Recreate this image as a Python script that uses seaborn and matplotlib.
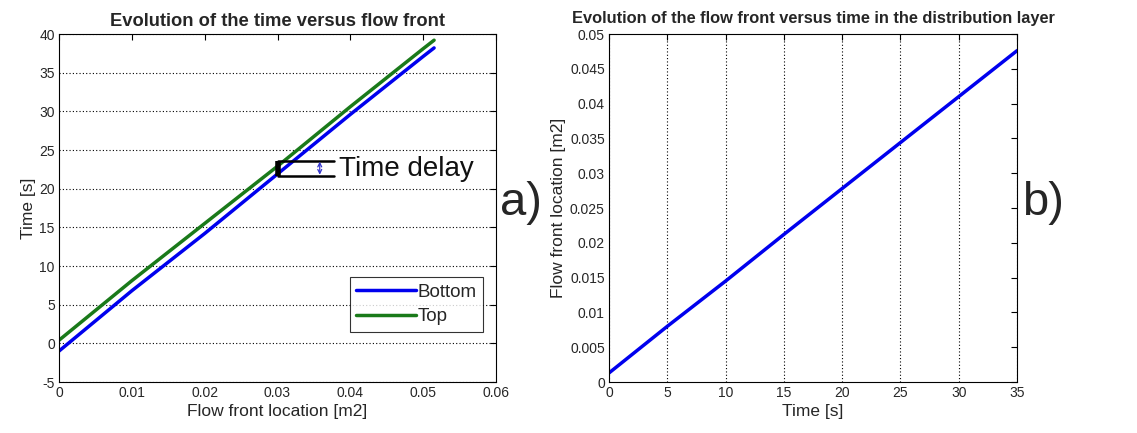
import numpy as np
import pandas as pd
import matplotlib
matplotlib.use("Agg")
import matplotlib.pyplot as plt
import seaborn as sns

# ---- data ----
front_a = [0.0, 0.01, 0.02, 0.03, 0.04, 0.05, 0.0515]
time_bottom = [-1.0, 6.8, 14.2, 21.9, 29.6, 37.1, 38.2]
time_top = [0.4, 8.1, 15.5, 22.9, 30.6, 38.1, 39.2]

time_b = [0, 5, 10, 15, 20, 25, 30, 35]
front_b = [0.0013, 0.0080, 0.0145, 0.0212, 0.0278, 0.0344, 0.0410, 0.0476]

xticks_a = [0, 0.01, 0.02, 0.03, 0.04, 0.05, 0.06]
yticks_a = [-5, 0, 5, 10, 15, 20, 25, 30, 35, 40]
xticks_b = [0, 5, 10, 15, 20, 25, 30, 35]
yticks_b = [0, 0.005, 0.01, 0.015, 0.02, 0.025, 0.03, 0.035, 0.04, 0.045, 0.05]

sns.set_theme(style="white")
plt.rcParams['font.family'] = ['Liberation Sans', 'DejaVu Sans']
plt.rcParams['axes.unicode_minus'] = False
plt.rcParams['xtick.direction'] = 'in'
plt.rcParams['ytick.direction'] = 'in'

fig = plt.figure(figsize=(11.37, 4.33), dpi=100)
W, H = 1137, 433
ax1 = fig.add_axes([59 / W, 1 - 382 / H, (496 - 59) / W, (382 - 34) / H])
ax2 = fig.add_axes([609 / W, 1 - 382 / H, (1017 - 609) / W, (382 - 34) / H])

df_a = pd.DataFrame({"front": front_a * 2,
                     "time": time_bottom + time_top,
                     "series": ["Bottom"] * len(front_a) + ["Top"] * len(front_a)})
sns.lineplot(data=df_a, x="front", y="time", hue="series",
             palette={"Bottom": "#0000ee", "Top": "#1a7a1a"},
             linewidth=2.5, ax=ax1, sort=False)

df_b = pd.DataFrame({"t": time_b, "f": front_b})
sns.lineplot(data=df_b, x="t", y="f", color="#0000ee", linewidth=2.5, ax=ax2)

for ax in (ax1, ax2):
    for s in ax.spines.values():
        s.set_color("black")
        s.set_linewidth(0.8)
    ax.tick_params(axis="both", which="both", direction="in", top=True, right=True,
                   length=4, width=0.8, color="black", labelsize=10, pad=3)

ax1.set_xlim(0, 0.06)
ax1.set_ylim(-5, 40)
ax1.set_xticks(xticks_a)
ax1.set_xticklabels(["0", "0.01", "0.02", "0.03", "0.04", "0.05", "0.06"])
ax1.set_yticks(yticks_a)
ax1.yaxis.grid(True, linestyle=(0, (1, 2)), color="black", linewidth=0.8)
ax1.xaxis.grid(False)
ax1.set_xlabel("Flow front location [m2]", fontsize=12.5, labelpad=3)
ax1.set_ylabel("Time [s]", fontsize=12.5, labelpad=2)
ax1.set_title("Evolution of the time versus flow front", fontsize=13.2, fontweight="bold", pad=6)
leg = ax1.legend(loc="lower right", bbox_to_anchor=(0.970, 0.144), fontsize=13.5,
                 frameon=True, fancybox=False, handlelength=3.2, handletextpad=0.05,
                 borderpad=0.35, labelspacing=0.4, borderaxespad=0)
leg.get_frame().set_edgecolor("black")
leg.get_frame().set_linewidth(0.8)
leg.set_title(None)

# Time delay annotation
ax1.plot([0.0300, 0.0300], [21.7, 23.6], color="black", linewidth=4, solid_capstyle="butt")
ax1.plot([0.0300, 0.0378], [23.6, 23.6], color="black", linewidth=1.8)
ax1.plot([0.0300, 0.0378], [21.7, 21.7], color="black", linewidth=1.8)
ax1.annotate("", xy=(0.0358, 23.5), xytext=(0.0358, 21.8),
             arrowprops=dict(arrowstyle="<->", color="#3333cc", lw=0.9,
                             mutation_scale=7, shrinkA=0, shrinkB=0))
ax1.text(0.0384, 22.6, "Time delay", fontsize=20, va="center", ha="left", color="#111111")

ax2.set_xlim(0, 35)
ax2.set_ylim(0, 0.05)
ax2.set_xticks(xticks_b)
ax2.set_yticks(yticks_b)
ax2.set_yticklabels(["0", "0.005", "0.01", "0.015", "0.02", "0.025", "0.03", "0.035",
                     "0.04", "0.045", "0.05"])
ax2.xaxis.grid(True, linestyle=(0, (1, 2)), color="black", linewidth=0.8)
ax2.yaxis.grid(False)
ax2.set_xlabel("Time [s]", fontsize=12.5, labelpad=3)
ax2.set_ylabel("Flow front location [m2]", fontsize=12.5, labelpad=3)
ax2.set_title("Evolution of the flow front versus time in the distribution layer",
              fontsize=11.8, fontweight="bold", pad=8)

fig.text(500 / W, 1 - 203 / H, "a)", fontsize=34, va="center", ha="left")
fig.text(1022 / W, 1 - 203 / H, "b)", fontsize=34, va="center", ha="left")

fig.savefig("out.png", dpi=100)
